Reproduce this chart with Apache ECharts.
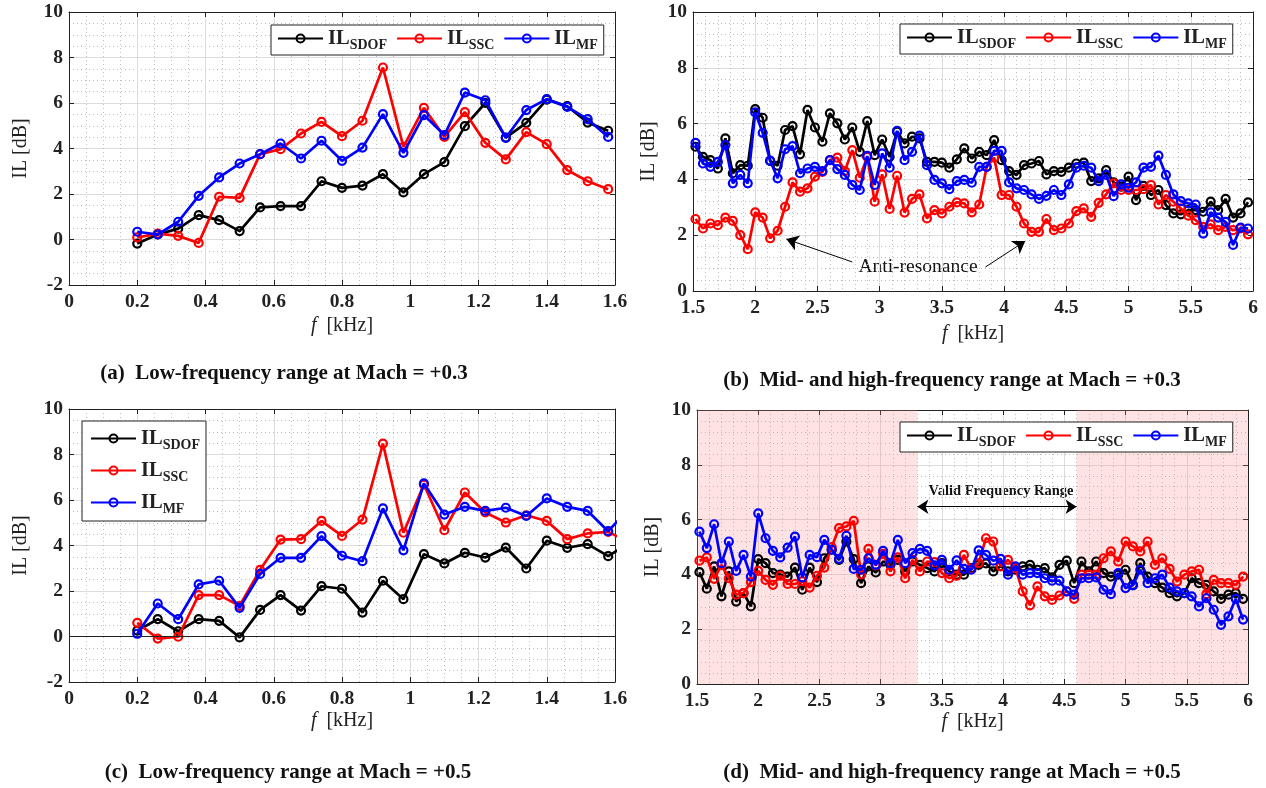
<!DOCTYPE html>
<html>
<head>
<meta charset="utf-8">
<script src="https://cdn.jsdelivr.net/npm/echarts@6/dist/echarts.min.js"></script>
<style>
  html, body { margin: 0; padding: 0; background: #fff; }
  #chart { width: 1266px; height: 788px; }
</style>
</head>
<body>
<div id="chart"></div>
<script>
// ---------- frequencies [kHz] ----------
const lowFreq = [0.20, 0.26, 0.32, 0.38, 0.44, 0.50, 0.56, 0.62, 0.68, 0.74, 0.80, 0.86,
                 0.92, 0.98, 1.04, 1.10, 1.16, 1.22, 1.28, 1.34, 1.40, 1.46, 1.52, 1.58];
const lowFreqC = [0.20, 0.26, 0.32, 0.38, 0.44, 0.50, 0.56, 0.62, 0.68, 0.74, 0.80, 0.86,
                  0.92, 0.98, 1.04, 1.10, 1.16, 1.22, 1.28, 1.34, 1.40, 1.46, 1.52, 1.58, 1.64];
const hiFreq = [1.52, 1.58, 1.64, 1.70, 1.76, 1.82, 1.88, 1.94, 2.00, 2.06, 2.12, 2.18, 2.24,
                2.30, 2.36, 2.42, 2.48, 2.54, 2.60, 2.66, 2.72, 2.78, 2.84, 2.90, 2.96, 3.02,
                3.08, 3.14, 3.20, 3.26, 3.32, 3.38, 3.44, 3.50, 3.56, 3.62, 3.68, 3.74, 3.80,
                3.86, 3.92, 3.98, 4.04, 4.10, 4.16, 4.22, 4.28, 4.34, 4.40, 4.46, 4.52, 4.58,
                4.64, 4.70, 4.76, 4.82, 4.88, 4.94, 5.00, 5.06, 5.12, 5.18, 5.24, 5.30, 5.36,
                5.42, 5.48, 5.54, 5.60, 5.66, 5.72, 5.78, 5.84, 5.90, 5.96];

// ---------- (a) low-frequency, Mach +0.3 ----------
const aSDOF = [-0.18, 0.22, 0.48, 1.07, 0.85, 0.37, 1.41, 1.47, 1.47, 2.56, 2.27, 2.37,
               2.87, 2.07, 2.87, 3.40, 4.98, 6.00, 4.48, 5.13, 6.15, 5.86, 5.14, 4.78];
const aSSC  = [0.09, 0.26, 0.16, -0.15, 1.88, 1.83, 3.75, 3.97, 4.66, 5.17, 4.54, 5.22,
               7.56, 4.07, 5.79, 4.51, 5.60, 4.25, 3.52, 4.72, 4.19, 3.05, 2.56, 2.21];
const aMF   = [0.34, 0.22, 0.78, 1.92, 2.73, 3.34, 3.75, 4.22, 3.56, 4.34, 3.46, 4.04,
               5.51, 3.81, 5.47, 4.59, 6.46, 6.12, 4.47, 5.69, 6.17, 5.83, 5.29, 4.51];

// ---------- (b) mid/high-frequency, Mach +0.3 ----------
const bSDOF = [5.17, 4.81, 4.69, 4.39, 5.47, 4.22, 4.51, 4.49, 6.52, 6.21,
               4.66, 4.49, 5.77, 5.91, 4.90, 6.49, 5.86, 5.35, 6.37, 6.01,
               5.43, 5.86, 4.99, 6.09, 4.87, 5.43, 4.81, 5.71, 5.29, 5.53,
               5.47, 4.63, 4.63, 4.60, 4.42, 4.72, 5.11, 4.75, 4.99, 4.87,
               5.41, 4.69, 4.30, 4.16, 4.51, 4.57, 4.66, 4.18, 4.30, 4.27,
               4.42, 4.57, 4.60, 3.94, 4.04, 4.33, 3.89, 3.74, 4.10, 3.26,
               3.77, 3.44, 3.62, 3.08, 2.78, 2.75, 2.90, 2.90, 2.84, 3.20,
               2.90, 3.30, 2.63, 2.78, 3.18];
const bSSC  = [2.58, 2.24, 2.42, 2.36, 2.63, 2.51, 2.00, 1.50, 2.82, 2.63,
               1.89, 2.16, 3.02, 3.89, 3.56, 3.68, 4.10, 4.27, 4.69, 4.78,
               4.30, 5.05, 4.06, 4.81, 3.20, 4.18, 2.94, 4.13, 2.81, 3.30,
               3.46, 2.60, 2.90, 2.78, 3.02, 3.18, 3.14, 2.82, 3.10, 4.45,
               4.78, 3.44, 3.44, 3.02, 2.42, 2.12, 2.12, 2.58, 2.18, 2.24,
               2.42, 2.86, 2.96, 2.66, 3.16, 3.46, 3.86, 3.62, 3.62, 3.62,
               3.65, 3.80, 3.10, 3.44, 3.20, 2.96, 2.70, 2.54, 2.30, 2.39,
               2.18, 2.30, 2.18, 2.24, 2.03];
const bMF   = [5.31, 4.57, 4.45, 4.63, 5.23, 3.86, 4.16, 3.86, 6.40, 5.67,
               4.67, 4.04, 5.08, 5.19, 4.22, 4.39, 4.45, 4.30, 4.69, 4.37,
               4.16, 3.80, 3.62, 4.84, 3.80, 4.93, 4.42, 5.74, 4.69, 4.99,
               5.57, 4.51, 3.98, 3.86, 3.65, 3.94, 3.98, 3.88, 4.45, 4.45,
               5.02, 5.02, 3.89, 3.68, 3.62, 3.46, 3.30, 3.41, 3.62, 3.44,
               3.82, 4.42, 4.49, 4.42, 3.94, 4.16, 3.40, 3.82, 3.70, 3.89,
               4.42, 4.45, 4.85, 4.16, 3.46, 3.22, 3.14, 3.10, 2.06, 2.82,
               2.63, 2.48, 1.65, 2.27, 2.24];

// ---------- (c) low-frequency, Mach +0.5 ----------
const cSDOF = [0.26, 0.76, 0.23, 0.76, 0.69, -0.04, 1.17, 1.82, 1.14, 2.21, 2.10, 1.05,
               2.45, 1.64, 3.62, 3.21, 3.68, 3.47, 3.91, 2.99, 4.21, 3.90, 4.06, 3.53, 4.10];
const cSSC  = [0.60, -0.09, -0.01, 1.82, 1.82, 1.35, 2.93, 4.26, 4.28, 5.08, 4.42, 5.14,
               8.48, 4.56, 6.68, 4.67, 6.33, 5.45, 5.01, 5.33, 5.08, 4.28, 4.53, 4.60, 4.15];
const cMF   = [0.12, 1.45, 0.76, 2.29, 2.45, 1.26, 2.75, 3.46, 3.46, 4.41, 3.55, 3.31,
               5.63, 3.79, 6.73, 5.36, 5.70, 5.52, 5.66, 5.30, 6.07, 5.70, 5.52, 4.63, 5.60];

// ---------- (d) mid/high-frequency, Mach +0.5 ----------
const dSDOF = [4.08, 3.48, 4.29, 3.20, 4.11, 3.01, 3.32, 2.83, 4.56, 4.41,
               4.05, 3.99, 3.92, 4.25, 3.44, 4.25, 3.72, 4.59, 4.90, 4.53,
               5.20, 4.56, 3.68, 4.29, 4.07, 4.47, 4.35, 4.53, 4.11, 4.47,
               4.35, 4.23, 4.11, 4.41, 4.11, 3.99, 3.99, 4.23, 4.35, 4.40,
               4.11, 4.30, 4.11, 4.17, 4.29, 4.35, 4.17, 4.23, 3.89, 4.35,
               4.50, 3.68, 4.47, 4.11, 4.47, 4.05, 3.92, 3.99, 4.17, 3.62,
               4.41, 3.92, 3.68, 3.52, 3.32, 3.20, 3.32, 3.86, 3.68, 3.62,
               3.38, 3.11, 3.26, 3.32, 3.11];
const dSSC  = [4.50, 4.62, 3.84, 4.35, 3.86, 3.26, 3.32, 3.72, 4.13, 3.80,
               3.62, 3.95, 3.65, 3.65, 3.75, 3.52, 3.95, 4.25, 5.00, 5.69,
               5.75, 5.95, 4.00, 4.93, 4.33, 4.75, 4.11, 4.62, 3.86, 4.53,
               4.11, 4.47, 4.45, 4.05, 3.86, 3.95, 4.71, 4.20, 4.41, 5.32,
               5.20, 4.29, 4.53, 4.23, 3.38, 2.87, 3.56, 3.20, 3.07, 3.23,
               3.38, 3.11, 3.99, 3.99, 3.99, 4.59, 4.84, 4.47, 5.20, 5.02,
               4.84, 5.20, 4.35, 4.59, 4.20, 3.74, 3.99, 4.11, 4.17, 3.28,
               3.80, 3.68, 3.68, 3.62, 3.92];
const dMF   = [5.56, 4.96, 5.83, 4.41, 5.20, 4.13, 4.71, 3.92, 6.23, 5.32,
               4.86, 4.62, 4.98, 5.38, 3.89, 4.71, 4.63, 5.26, 4.90, 4.57,
               5.41, 4.20, 4.17, 4.59, 4.35, 4.86, 4.41, 5.26, 4.41, 4.78,
               4.93, 4.86, 4.33, 4.53, 4.17, 4.51, 4.20, 4.17, 4.88, 4.71,
               4.50, 4.57, 3.99, 4.29, 3.99, 4.05, 4.05, 3.86, 3.77, 3.77,
               3.38, 3.26, 3.86, 3.86, 3.89, 3.44, 3.28, 4.05, 3.50, 3.60,
               4.17, 3.68, 3.86, 3.99, 3.52, 3.38, 3.32, 3.20, 2.83, 3.13,
               2.71, 2.16, 2.47, 3.11, 2.35];

const seriesNames = ['SDOF', 'SSC', 'MF'];
const seriesColors = ['#000000', '#ff0000', '#0000ff'];
const captions = [
  '(a)  Low-frequency range at Mach = +0.3',
  '(b)  Mid- and high-frequency range at Mach = +0.3',
  '(c)  Low-frequency range at Mach = +0.5',
  '(d)  Mid- and high-frequency range at Mach = +0.5'
];

// ---------- styling ----------
const SERIF = '"Liberation Serif", "Times New Roman", Times, serif';
const INK = '#222222';

const grids = [
  { left: 69,  top: 12,  width: 546, height: 273 },
  { left: 693, top: 12,  width: 560, height: 279 },
  { left: 69,  top: 409, width: 546, height: 273 },
  { left: 697, top: 410, width: 551, height: 274 }
];

const xRanges = [
  { min: 0, max: 1.6, interval: 0.2, minor: 4, nameGap: 31 },
  { min: 1.5, max: 6, interval: 0.5, minor: 5, nameGap: 33 },
  { min: 0, max: 1.6, interval: 0.2, minor: 4, nameGap: 29 },
  { min: 1.5, max: 6, interval: 0.5, minor: 5, nameGap: 27 }
];
const yRanges = [
  { min: -2, max: 10, interval: 2, minor: 4, nameGap: 38 },
  { min: 0, max: 10, interval: 2, minor: 5, nameGap: 34 },
  { min: -2, max: 10, interval: 2, minor: 4, nameGap: 38 },
  { min: 0, max: 10, interval: 2, minor: 5, nameGap: 34 }
];

const xAxes = [], yAxes = [];
xRanges.forEach((r, g) => {
  xAxes.push({
    type: 'value', gridIndex: g, position: 'bottom',
    min: r.min, max: r.max, interval: r.interval,
    axisLine: { show: true, onZero: false, lineStyle: { color: INK, width: 1 } },
    axisTick: { show: true, inside: true, length: 5, lineStyle: { color: INK } },
    axisLabel: { fontFamily: SERIF, fontWeight: 'bold', fontSize: 19.5, color: INK, margin: 7 },
    splitLine: { show: true, lineStyle: { color: '#dcdcdc', width: 1 } },
    minorTick: { show: false, splitNumber: r.minor },
    minorSplitLine: { show: true, lineStyle: { color: '#bdbdbd', width: 1, type: [1, 3] } },
    name: '{i|f}  [kHz]', nameLocation: 'middle', nameGap: r.nameGap,
    nameTextStyle: {
      fontFamily: SERIF, fontSize: 20, color: INK,
      rich: { i: { fontFamily: SERIF, fontSize: 20, fontStyle: 'italic', color: INK } }
    }
  });
});
xRanges.forEach((r, g) => {
  xAxes.push({
    type: 'value', gridIndex: g, position: 'top',
    min: r.min, max: r.max, interval: r.interval,
    axisLine: { show: true, onZero: false, lineStyle: { color: INK, width: 1 } },
    axisTick: { show: true, inside: true, length: 5, lineStyle: { color: INK } },
    axisLabel: { show: false }, splitLine: { show: false }
  });
});
yRanges.forEach((r, g) => {
  yAxes.push({
    type: 'value', gridIndex: g, position: 'left',
    min: r.min, max: r.max, interval: r.interval,
    axisLine: { show: true, onZero: false, lineStyle: { color: INK, width: 1 } },
    axisTick: { show: true, inside: true, length: 5, lineStyle: { color: INK } },
    axisLabel: { fontFamily: SERIF, fontWeight: 'bold', fontSize: 19.5, color: INK, margin: 6 },
    splitLine: { show: true, lineStyle: { color: '#dcdcdc', width: 1 } },
    minorTick: { show: false, splitNumber: r.minor },
    minorSplitLine: { show: true, lineStyle: { color: '#bdbdbd', width: 1, type: [1, 3] } },
    name: 'IL [dB]', nameLocation: 'middle', nameGap: r.nameGap, nameRotate: 90,
    nameTextStyle: { fontFamily: SERIF, fontSize: 20, color: INK }
  });
});
yRanges.forEach((r, g) => {
  yAxes.push({
    type: 'value', gridIndex: g, position: 'right',
    min: r.min, max: r.max, interval: r.interval,
    axisLine: { show: true, onZero: false, lineStyle: { color: INK, width: 1 } },
    axisTick: { show: true, inside: true, length: 5, lineStyle: { color: INK } },
    axisLabel: { show: false }, splitLine: { show: false }
  });
});

// ---------- series ----------
function pairs(xs, ys) { return ys.map((y, i) => [xs[i], y]); }

function lineSeries(g, idx, xs, ys, extra) {
  const c = seriesColors[idx];
  return Object.assign({
    type: 'line', name: seriesNames[idx],
    xAxisIndex: g, yAxisIndex: g,
    data: pairs(xs, ys),
    symbol: 'circle', symbolSize: 8, showAllSymbol: true,
    lineStyle: { color: c, width: 2.7 },
    itemStyle: { color: 'rgba(255,255,255,0)', borderColor: c, borderWidth: 2.2 },
    emphasis: { disabled: true },
    clip: true, z: 3 + idx
  }, extra || {});
}

const arrowLine = { color: '#000', width: 1, type: 'solid' };

const series = [
  lineSeries(0, 0, lowFreq, aSDOF),
  lineSeries(0, 1, lowFreq, aSSC),
  lineSeries(0, 2, lowFreq, aMF),

  lineSeries(1, 0, hiFreq, bSDOF, {
    markLine: {
      silent: true, symbol: ['none', 'arrow'], symbolSize: 12,
      lineStyle: arrowLine, label: { show: false }, animation: false,
      data: [
        [{ coord: [2.78, 1.04] }, { coord: [2.25, 1.86] }],
        [{ coord: [3.85, 0.86] }, { coord: [4.17, 1.79] }]
      ]
    }
  }),
  lineSeries(1, 1, hiFreq, bSSC),
  lineSeries(1, 2, hiFreq, bMF),

  lineSeries(2, 0, lowFreqC, cSDOF, {
    markLine: {
      silent: true, symbol: ['none', 'none'],
      lineStyle: { color: '#222', width: 1, type: 'solid' }, label: { show: false },
      animation: false, data: [{ yAxis: 0 }]
    }
  }),
  lineSeries(2, 1, lowFreqC, cSSC),
  lineSeries(2, 2, lowFreqC, cMF),

  lineSeries(3, 0, hiFreq, dSDOF, {
    markArea: {
      silent: true, animation: false,
      itemStyle: { color: 'rgba(245,140,140,0.24)' },
      data: [
        [{ xAxis: 1.5 }, { xAxis: 3.3 }],
        [{ xAxis: 4.6 }, { xAxis: 6 }]
      ]
    },
    markLine: {
      silent: true, symbol: ['arrow', 'arrow'], symbolSize: 11,
      lineStyle: arrowLine, label: { show: false }, animation: false,
      data: [[{ coord: [3.3, 6.47] }, { coord: [4.6, 6.47] }]]
    }
  }),
  lineSeries(3, 1, hiFreq, dSSC),
  lineSeries(3, 2, hiFreq, dMF)
];

// ---------- legends ----------
function legend(pos, orient) {
  return Object.assign({
    data: seriesNames, orient: orient,
    backgroundColor: '#ffffff', borderColor: INK, borderWidth: 1, borderRadius: 0,
    padding: orient === 'vertical' ? [7, 6, 5, 8] : [3, 6, 3, 6],
    itemWidth: 45, itemHeight: 10, itemGap: orient === 'vertical' ? 8 : 9,
    selectedMode: false,
    formatter: n => '{m|IL}{s|' + n + '}',
    textStyle: {
      rich: {
        m: { fontFamily: SERIF, fontWeight: 'bold', fontSize: 20.5, color: INK },
        s: { fontFamily: SERIF, fontWeight: 'bold', fontSize: 14, color: INK, padding: [13, 0, 0, 0] }
      }
    }
  }, pos);
}

const legends = [
  legend({ left: 271, top: 25 }, 'horizontal'),
  legend({ left: 900, top: 24 }, 'horizontal'),
  legend({ left: 82, top: 421 }, 'vertical'),
  legend({ left: 900, top: 422 }, 'horizontal')
];

// ---------- captions and annotations ----------
const captionPos = [[284, 374], [952, 381], [288, 773], [952, 773]];
const graphics = captions.map((t, i) => ({
  type: 'text', x: captionPos[i][0], y: captionPos[i][1],
  style: { text: t, fontFamily: SERIF, fontWeight: 'bold', fontSize: 21, fill: '#111',
           textAlign: 'center', textVerticalAlign: 'middle' },
  silent: true
}));
graphics.push({
  type: 'text', x: 918, y: 267,
  style: { text: 'Anti-resonance', fontFamily: SERIF, fontSize: 19.5, fill: '#111',
           textAlign: 'center', textVerticalAlign: 'middle' },
  silent: true
});
graphics.push({
  type: 'text', x: 1001, y: 491,
  style: { text: 'Valid Frequency Range', fontFamily: SERIF, fontWeight: 'bold', fontSize: 14.5,
           fill: '#111', textAlign: 'center', textVerticalAlign: 'middle' },
  silent: true
});

const chart = echarts.init(document.getElementById('chart'), null, { renderer: 'canvas' });
chart.setOption({
  animation: false,
  backgroundColor: '#ffffff',
  grid: grids,
  xAxis: xAxes,
  yAxis: yAxes,
  legend: legends,
  series: series,
  graphic: graphics
});
</script>
</body>
</html>
